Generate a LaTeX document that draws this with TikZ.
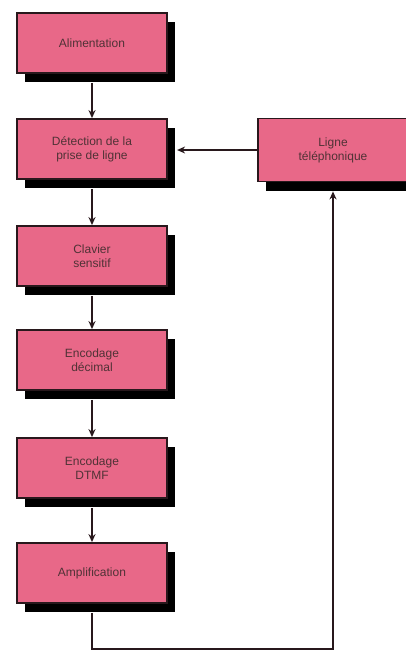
\documentclass[tikz,border=0pt]{standalone}
\usepackage{fontspec}
\setmainfont{Liberation Sans}
\usetikzlibrary{shadows,arrows.meta}
\definecolor{blocpink}{RGB}{232,104,136}
\definecolor{blocedge}{RGB}{40,24,28}
\definecolor{bloctext}{RGB}{80,50,54}
\begin{document}
\begin{tikzpicture}[
    x=1pt, y=-1pt,
    font=\fontsize{12}{14}\selectfont,
    bloc/.style={draw=blocedge, line width=1.8pt, fill=blocpink,
        text=bloctext, align=center, minimum width=150pt, minimum height=60pt,
        drop shadow={shadow xshift=8pt, shadow yshift=-9pt, fill=black, opacity=1}},
    fleche/.style={-{Stealth[length=8pt, width=7pt]}, line width=1.4pt, draw=blocedge}
]
    \useasboundingbox (0,0) rectangle (406,651);

    % Blocks (left column)
    \node[bloc] (alim)    at (92, 43)  {Alimentation};
    \node[bloc] (detect)  at (92, 149) {Détection de la\\prise de ligne};
    \node[bloc] (clavier) at (92, 256) {Clavier\\sensitif};
    \node[bloc] (decimal) at (92, 360) {Encodage\\décimal};
    \node[bloc] (dtmf)    at (92, 468) {Encodage\\DTMF};
    \node[bloc] (ampli)   at (92, 573) {Amplification};

    % Telephone line
    \node[bloc, minimum height=63pt] (ligne) at (333, 150) {Ligne\\téléphonique};

    % Corners of the return path
    \coordinate (coin1) at (92, 649);
    \coordinate (coin2) at (333, 649);

    % Connectors
    \draw[fleche] (alim.south)    ++(0,9) -- (detect.north);
    \draw[fleche] (detect.south)  ++(0,9) -- (clavier.north);
    \draw[fleche] (clavier.south) ++(0,9) -- (decimal.north);
    \draw[fleche] (decimal.south) ++(0,9) -- (dtmf.north);
    \draw[fleche] (dtmf.south)    ++(0,9) -- (ampli.north);
    \draw[fleche] (ligne.west) -- ++(-80,0);
    \draw[fleche] (ampli.south) ++(0,9) -- (coin1) -- (coin2) -- ([yshift=-9pt]ligne.south);

\end{tikzpicture}
\end{document}
